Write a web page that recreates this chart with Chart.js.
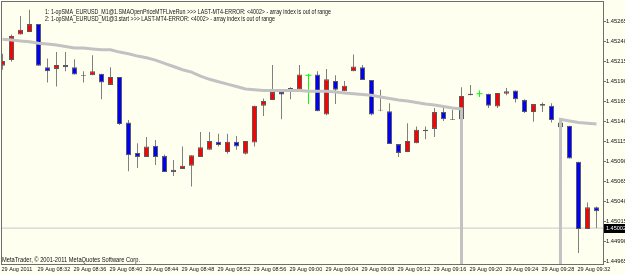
<!DOCTYPE html>
<html><head><meta charset="utf-8">
<script src="https://cdn.jsdelivr.net/npm/chart.js@4.4.1/dist/chart.umd.min.js"></script>
<style>html,body{margin:0;padding:0;background:#fffff0;overflow:hidden}canvas{display:block}</style>
</head><body><canvas id="c" width="625" height="274"></canvas>
<script>
// ---- data (EURUSD M1, 29 Aug 2011, one candle per minute from 08:28) ----
const tickIndex = [0,4,8,12,16,20,24,28,32,36,40,44,48,52,56,60,64];
const tickLabels = ["29 Aug 2011","29 Aug 08:32","29 Aug 08:36","29 Aug 08:40","29 Aug 08:44","29 Aug 08:48","29 Aug 08:52","29 Aug 08:56","29 Aug 09:00","29 Aug 09:04","29 Aug 09:08","29 Aug 09:12","29 Aug 09:16","29 Aug 09:20","29 Aug 09:24","29 Aug 09:28","29 Aug 09:32"];
const priceTicks = [1.44965,1.44990,1.45015,1.45040,1.45065,1.45090,1.45115,1.45140,1.45165,1.45190,1.45215,1.45240,1.45265];

const open = [1.45210,1.45217,1.45249,1.45252,1.45262,1.45208,1.45206,1.45211,1.45208,1.45197,
1.45198,1.45200,1.45186,1.45196,1.45139,1.45101,1.45096,1.45110,1.45097,1.45077,
1.45081,1.45085,1.45096,1.45105,1.45115,1.45102,1.45115,1.45100,1.45114,1.45160,
1.45167,1.45177,1.45180,1.45180,1.45198,1.45199,1.45149,1.45191,1.45178,1.45203,
1.45208,1.45192,1.45154,1.45153,1.45112,1.45102,1.45113,1.45130,1.45131,1.45152,
1.45142,1.45143,1.45173,1.45175,1.45175,1.45159,1.45175,1.45179,1.45167,1.45152,
1.45162,1.45160,1.45139,1.45135,1.45090,1.45006,1.45033];
const high = [1.45225,1.45249,1.45272,1.45280,1.45262,1.45219,1.45227,1.45227,1.45218,1.45203,
1.45223,1.45200,1.45208,1.45196,1.45142,1.45113,1.45121,1.45117,1.45099,1.45092,
1.45109,1.45098,1.45127,1.45127,1.45125,1.45125,1.45122,1.45116,1.45160,1.45169,
1.45211,1.45178,1.45183,1.45211,1.45200,1.45203,1.45206,1.45198,1.45191,1.45224,
1.45211,1.45192,1.45180,1.45163,1.45112,1.45138,1.45134,1.45134,1.45157,1.45157,
1.45155,1.45183,1.45186,1.45179,1.45175,1.45176,1.45182,1.45179,1.45168,1.45162,
1.45164,1.45163,1.45142,1.45135,1.45090,1.45039,1.45034];
const low = [1.45205,1.45215,1.45249,1.45252,1.45210,1.45189,1.45184,1.45203,1.45199,1.45189,
1.45198,1.45168,1.45186,1.45136,1.45078,1.45082,1.45096,1.45086,1.45077,1.45072,
1.45081,1.45059,1.45096,1.45105,1.45109,1.45100,1.45105,1.45099,1.45109,1.45147,
1.45167,1.45143,1.45168,1.45180,1.45162,1.45153,1.45148,1.45162,1.45178,1.45203,
1.45192,1.45148,1.45153,1.45112,1.45096,1.45102,1.45113,1.45118,1.45121,1.45141,
1.45142,1.45143,1.45173,1.45171,1.45157,1.45157,1.45173,1.45164,1.45151,1.45140,
1.45152,1.45139,1.45133,1.45094,1.44976,1.45006,1.45007];
const close = [1.45216,1.45247,1.45255,1.45262,1.45210,1.45203,1.45211,1.45208,1.45199,1.45198,
1.45203,1.45189,1.45196,1.45137,1.45098,1.45096,1.45109,1.45096,1.45077,1.45080,
1.45085,1.45098,1.45108,1.45116,1.45111,1.45115,1.45109,1.45116,1.45160,1.45166,
1.45177,1.45174,1.45182,1.45199,1.45198,1.45153,1.45193,1.45180,1.45185,1.45209,
1.45192,1.45149,1.45155,1.45112,1.45101,1.45116,1.45130,1.45128,1.45152,1.45143,
1.45143,1.45172,1.45175,1.45175,1.45160,1.45176,1.45178,1.45168,1.45152,1.45162,
1.45160,1.45142,1.45133,1.45094,1.45006,1.45033,1.45028];
// SMA indicator (0 where the indicator failed: "array index is out of range")
const sma = [1.45243,1.45242,1.45241,1.45240,1.45238,1.45237,1.45236,1.45234,1.45232,1.45232,
1.45231,1.45230,1.45230,1.45227,1.45225,1.45222,1.45220,1.45217,1.45213,1.45209,
1.45205,1.45202,1.45197,1.45193,1.45190,1.45187,1.45184,1.45181,1.45180,1.45179,
1.45179,1.45179,1.45179,1.45179,1.45178,1.45178,1.45178,1.45177,1.45176,1.45175,
1.45174,1.45173,1.45171,1.45169,1.45167,1.45166,1.45164,1.45162,1.45161,1.45159,
1.45157,1.45156,0,0,0,0,0,0,0,0,
0,0,1.45143,1.45141,1.45139,1.45138,1.45137];
const bidPrice = 1.45007;   // level of the horizontal price line as drawn
const bidLabel = "1.45002"; // text shown in the price box
const infoLines = [
  "1: 1-opSMA_EURUSD_M1@1.SMAOpenPriceMTFLiveRun >>> LAST-MT4-ERROR: <4002> - array index is out of range",
  "2: 1-opSMA_EURUSD_M1@3.start >>> LAST-MT4-ERROR: <4002> - array index is out of range"
];
const copyright = "MetaTrader, \u00a9 2001-2011 MetaQuotes Software Corp.";

// ---- styling ----
const BG = '#fffff0';
const FONT = "'Liberation Sans', Arial, sans-serif";
const idx = open.map((_, i) => i);
const dir = idx.map(i => close[i] > open[i] ? 1 : (close[i] < open[i] ? -1 : 0));
const bodyIdx = idx.filter(i => dir[i] !== 0);
const dojiIdx = idx.filter(i => dir[i] === 0);

const mtPlugin = {
  id: 'mt',
  beforeDraw(chart) {
    const {ctx, width, height} = chart;
    ctx.save(); ctx.fillStyle = BG; ctx.fillRect(0, 0, width, height); ctx.restore();
  },
  afterDraw(chart) {
    const {ctx, chartArea: a, scales: {y}} = chart;
    ctx.save();
    ctx.strokeStyle = '#6e6e6e'; ctx.lineWidth = 1;
    ctx.strokeRect(a.left + 0.5, a.top + 0.5, a.right - a.left, a.bottom - a.top);
    ctx.fillStyle = '#111';
    ctx.font = '7px ' + FONT;
    ctx.textBaseline = 'alphabetic';
    ctx.fillText(infoLines[0], 45, 13.5, 286);
    ctx.fillText(infoLines[1], 45, 20.5, 230);
    ctx.fillText(copyright, 2, 262, 138);
    const py = y.getPixelForValue(bidPrice);
    ctx.fillStyle = '#000';
    ctx.fillRect(a.right + 1, Math.round(py) - 4, chart.width - a.right - 1, 9);
    ctx.fillStyle = '#fff';
    ctx.font = '6px ' + FONT;
    ctx.textBaseline = 'middle';
    ctx.fillText(bidLabel, a.right + 3, Math.round(py) + 0.5, 20);
    ctx.restore();
  }
};

const noPad = s => { s.paddingLeft = 0; s.paddingRight = 0; s.paddingTop = 0; s.paddingBottom = 0; };

new Chart(document.getElementById('c'), {
  type: 'bar',
  data: {
    datasets: [
      { type: 'line', label: 'SMA', data: idx.map(i => ({x: i, y: sma[i]})),
        borderColor: '#c2c2c2', borderWidth: 3, pointRadius: 0, tension: 0, order: 0 },
      { type: 'scatter', label: 'doji', data: dojiIdx.map(i => ({x: i, y: open[i]})),
        pointStyle: 'line', pointRadius: 3, borderColor: '#00ff00', borderWidth: 1, order: 1 },
      { type: 'bar', label: 'body', data: bodyIdx.map(i => ({x: i, y: [open[i], close[i]]})),
        backgroundColor: bodyIdx.map(i => dir[i] > 0 ? '#ff0000' : '#0000ff'),
        borderColor: '#5a5a5a', borderWidth: 1, borderSkipped: false, barThickness: 5,
        grouped: false, inflateAmount: 0, order: 2 },
      { type: 'bar', label: 'wick', data: idx.map(i => ({x: i, y: [low[i], high[i]]})),
        backgroundColor: idx.map(i => dir[i] === 0 ? '#00ff00' : '#808080'),
        borderWidth: 0, barThickness: 1, grouped: false, inflateAmount: 0, order: 3 },
      { type: 'line', label: 'bid', data: [{x: -1, y: bidPrice}, {x: 68, y: bidPrice}],
        borderColor: '#c8c8c8', borderWidth: 1, pointRadius: 0, order: 4 }
    ]
  },
  options: {
    responsive: false, animation: false, events: [],
    devicePixelRatio: 1,
    layout: { autoPadding: false, padding: { left: 1, top: 1, right: 0, bottom: 0 } },
    plugins: { legend: { display: false }, tooltip: { enabled: false } },
    scales: {
      x: {
        type: 'linear', min: -1.5 / 9, max: -1.5 / 9 + 602 / 9, offset: false,
        grid: { display: false, drawTicks: false, tickLength: 0 }, border: { display: false },
        afterBuildTicks: s => { s.ticks = tickIndex.map(v => ({value: v})); },
        afterFit: s => { s.height = 10; noPad(s); },
        ticks: {
          autoSkip: false, maxRotation: 0, minRotation: 0, align: 'start', padding: 2, labelOffset: -1,
          color: '#111', font: { family: FONT, size: 5.5 },
          callback: v => tickLabels[tickIndex.indexOf(v)]
        }
      },
      y: {
        type: 'linear', position: 'right', min: 1.44962125, max: 1.45290875,
        grid: { drawOnChartArea: false, drawTicks: true, tickLength: 3, color: '#6e6e6e' },
        border: { display: false },
        afterBuildTicks: s => { s.ticks = priceTicks.map(v => ({value: v})); },
        afterFit: s => { s.width = 22; noPad(s); },
        ticks: {
          autoSkip: false, padding: 0, color: '#111', font: { family: FONT, size: 5.8 },
          callback: v => v.toFixed(5)
        }
      }
    }
  },
  plugins: [mtPlugin]
});
</script>
</body></html>
